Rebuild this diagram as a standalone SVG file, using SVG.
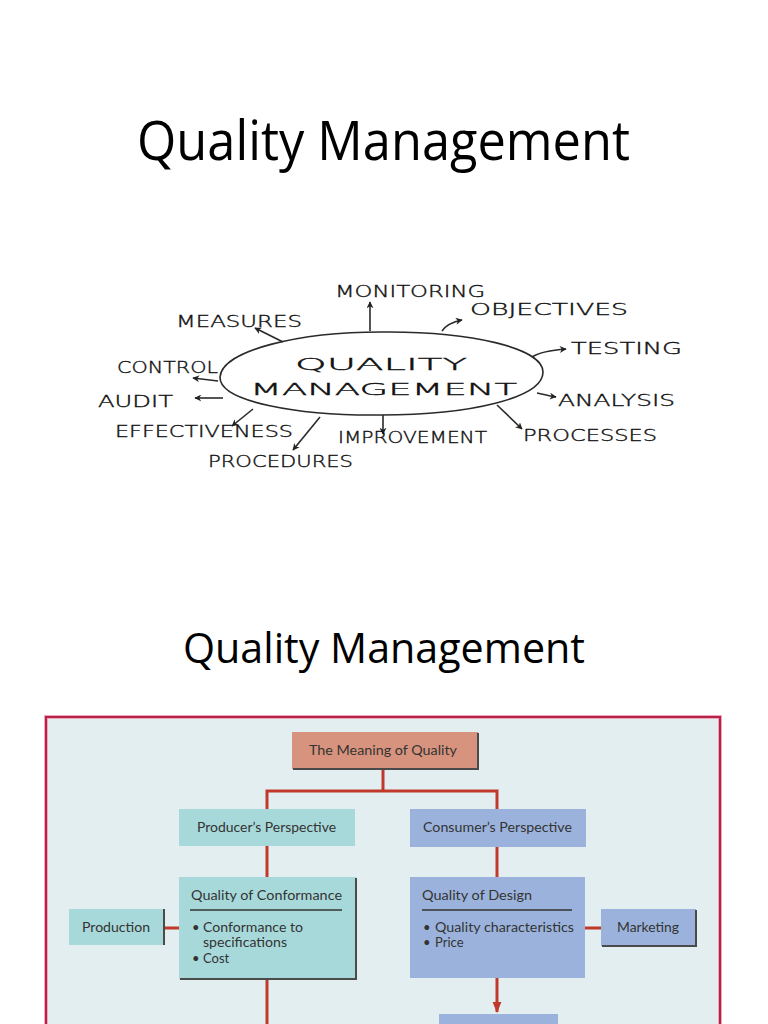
<svg xmlns="http://www.w3.org/2000/svg" width="768" height="1024" viewBox="0 0 768 1024">
<defs>
<marker id="sk" viewBox="0 0 10 10" refX="9" refY="5" markerWidth="7" markerHeight="7" orient="auto" markerUnits="userSpaceOnUse">
<path d="M0,0 L10,5 L0,10 L3,5 z" fill="#222"/>
</marker>
<marker id="rd" viewBox="0 0 10 10" refX="9" refY="5" markerWidth="11" markerHeight="11" orient="auto" markerUnits="userSpaceOnUse">
<path d="M0,1 L10,5 L0,9 z" fill="#c0392b"/>
</marker>
<style>
.title{font-family:"Open Sans","Liberation Sans",sans-serif;fill:#000}
.hand{font-family:"DejaVu Sans","Liberation Sans",sans-serif;font-weight:200;font-size:15px;fill:#111;stroke:#111;stroke-width:0.35}
.hl{stroke:#2a2a2a;stroke-width:1.6;fill:none}
.fc{font-family:Lato,"Open Sans",sans-serif;font-size:13px;fill:#333}
.conn{stroke:#c0392b;stroke-width:3;fill:none}
.shadow{stroke:#4a4a4a;stroke-width:2;fill:none}
</style>
</defs>
<rect width="768" height="1024" fill="#ffffff"/>

<text class="title" x="137" y="160" font-size="54" textLength="493" lengthAdjust="spacingAndGlyphs">Quality Management</text>

<g id="sketch">
<g id="center">
<path class="hl" d="M220,377 C222,350 300,332 381,332 C470,331 543,348 543,372 C543,398 470,415 381,415 C300,416 219,402 220,377 Z"/>
<text class="hand" x="295" y="370" font-size="23" textLength="172" lengthAdjust="spacingAndGlyphs">QUALITY</text>
<text class="hand" x="250" y="395" font-size="23" textLength="267" lengthAdjust="spacingAndGlyphs">MANAGEMENT</text>
</g>
<g id="arrows">
<line class="hl" x1="283" y1="342" x2="255" y2="328" marker-end="url(#sk)"/>
<line class="hl" x1="370" y1="331" x2="370" y2="302" marker-end="url(#sk)"/>
<line class="hl" x1="218" y1="381" x2="193" y2="378" marker-end="url(#sk)"/>
<line class="hl" x1="223" y1="398" x2="195" y2="398" marker-end="url(#sk)"/>
<line class="hl" x1="253" y1="409" x2="232" y2="426" marker-end="url(#sk)"/>
<line class="hl" x1="320" y1="417" x2="293" y2="450" marker-end="url(#sk)"/>
<line class="hl" x1="383" y1="415" x2="383" y2="434" marker-end="url(#sk)"/>
<path class="hl" d="M442,331 C446,325 452,322 462,320" marker-end="url(#sk)"/>
<path class="hl" d="M532,357 C540,352 552,350 566,349" marker-end="url(#sk)"/>
<path class="hl" d="M537,393 C543,394 549,396 556,397" marker-end="url(#sk)"/>
<line class="hl" x1="497" y1="405" x2="522" y2="429" marker-end="url(#sk)"/>
</g>
<g id="labels">
<text class="hand" x="335" y="297" textLength="150" lengthAdjust="spacingAndGlyphs">MONITORING</text>
<text class="hand" x="470" y="315" textLength="158" lengthAdjust="spacingAndGlyphs">OBJECTIVES</text>
<text class="hand" x="176" y="327" textLength="126" lengthAdjust="spacingAndGlyphs">MEASURES</text>
<text class="hand" x="571" y="354" textLength="111" lengthAdjust="spacingAndGlyphs">TESTING</text>
<text class="hand" x="117" y="373" textLength="101" lengthAdjust="spacingAndGlyphs">CONTROL</text>
<text class="hand" x="98" y="407" textLength="75" lengthAdjust="spacingAndGlyphs">AUDIT</text>
<text class="hand" x="558" y="406" textLength="117" lengthAdjust="spacingAndGlyphs">ANALYSIS</text>
<text class="hand" x="115" y="437" textLength="178" lengthAdjust="spacingAndGlyphs">EFFECTIVENESS</text>
<text class="hand" x="338" y="443" textLength="149" lengthAdjust="spacingAndGlyphs">IMPROVEMENT</text>
<text class="hand" x="523" y="441" textLength="134" lengthAdjust="spacingAndGlyphs">PROCESSES</text>
<text class="hand" x="208" y="467" textLength="145" lengthAdjust="spacingAndGlyphs">PROCEDURES</text>
</g>
</g>

<text class="title" x="183" y="663" font-size="42" textLength="402" lengthAdjust="spacingAndGlyphs">Quality Management</text>

<g id="frame">
<rect x="46" y="717" width="674" height="330" fill="#e2eef0" stroke="#f0a8b8" stroke-width="4"/>
<rect x="46" y="717" width="674" height="330" fill="none" stroke="#b5234a" stroke-width="2"/>
</g>

<g id="connectors">
<line class="conn" x1="383" y1="769" x2="383" y2="791"/>
<polyline class="conn" points="267,809 267,791 497,791 497,809"/>
<line class="conn" x1="267" y1="846" x2="267" y2="877"/>
<line class="conn" x1="497" y1="847" x2="497" y2="877"/>
<line class="conn" x1="164" y1="928" x2="179" y2="928"/>
<line class="conn" x1="585" y1="928" x2="601" y2="928"/>
<line class="conn" x1="267" y1="979" x2="267" y2="1024"/>
<line class="conn" x1="497" y1="978" x2="497" y2="1012" marker-end="url(#rd)"/>
</g>

<g id="meaning">
<rect x="292" y="732" width="186" height="37" fill="#d7937d"/>
<polyline class="shadow" points="478,733 478,769 293,769"/>
<text class="fc" x="309" y="755" textLength="148" lengthAdjust="spacingAndGlyphs">The Meaning of Quality</text>
</g>

<g id="producer">
<rect x="179" y="809" width="176" height="37" fill="#a8d9da"/>
<text class="fc" x="197" y="832" textLength="139" lengthAdjust="spacingAndGlyphs">Producer’s Perspective</text>
</g>

<g id="consumer">
<rect x="410" y="809" width="176" height="38" fill="#9bb3dc"/>
<text class="fc" x="423" y="832" textLength="149" lengthAdjust="spacingAndGlyphs">Consumer’s Perspective</text>
</g>

<g id="conformance">
<rect x="179" y="877" width="177" height="102" fill="#a8d9da"/>
<polyline class="shadow" points="356,878 356,979 180,979"/>
<text class="fc" x="191" y="900" textLength="151" lengthAdjust="spacingAndGlyphs">Quality of Conformance</text>
<line x1="190" y1="910" x2="342" y2="910" stroke="#333" stroke-width="1.3"/>
<text class="fc" x="192" y="932">•</text>
<text class="fc" x="203" y="932" textLength="100" lengthAdjust="spacingAndGlyphs">Conformance to</text>
<text class="fc" x="203" y="947" textLength="84" lengthAdjust="spacingAndGlyphs">specifications</text>
<text class="fc" x="192" y="963">•</text>
<text class="fc" x="203" y="963">Cost</text>
</g>

<g id="production">
<rect x="69" y="909" width="95" height="36" fill="#a8d9da"/>
<line class="shadow" x1="164" y1="909" x2="164" y2="945"/>
<text class="fc" x="82" y="932" textLength="68" lengthAdjust="spacingAndGlyphs">Production</text>
</g>

<g id="design">
<rect x="410" y="877" width="175" height="101" fill="#9bb3dc"/>
<text class="fc" x="422" y="900" textLength="110" lengthAdjust="spacingAndGlyphs">Quality of Design</text>
<line x1="422" y1="910" x2="572" y2="910" stroke="#333" stroke-width="1.3"/>
<text class="fc" x="423" y="932">•</text>
<text class="fc" x="435" y="932" textLength="139" lengthAdjust="spacingAndGlyphs">Quality characteristics</text>
<text class="fc" x="423" y="947">•</text>
<text class="fc" x="435" y="947">Price</text>
</g>

<g id="marketing">
<rect x="601" y="909" width="95" height="37" fill="#9bb3dc"/>
<polyline class="shadow" points="696,910 696,946 602,946"/>
<text class="fc" x="617" y="932" textLength="62" lengthAdjust="spacingAndGlyphs">Marketing</text>
</g>

<g id="next">
<rect x="439" y="1014" width="119" height="20" fill="#9bb3dc"/>
</g>
</svg>
